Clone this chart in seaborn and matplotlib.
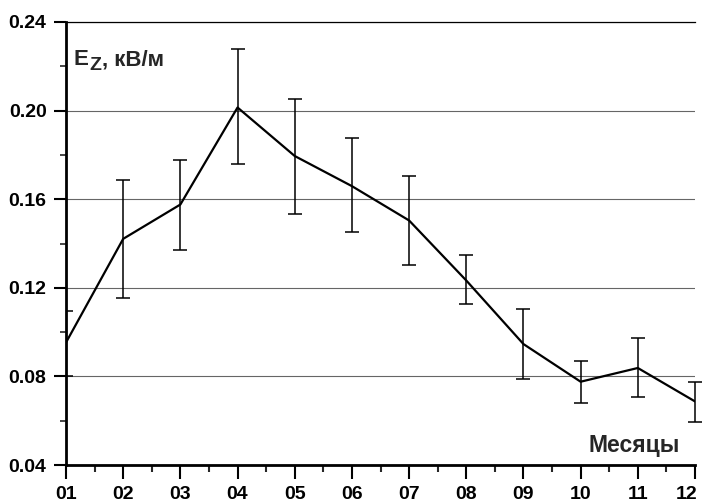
import numpy as np
import seaborn as sns
import matplotlib.pyplot as plt
import matplotlib.transforms as mtransforms

# Данные: среднемесячные значения Ez и границы погрешностей
months = np.arange(1, 13)
month_labels = ['01', '02', '03', '04', '05', '06', '07', '08', '09', '10', '11', '12']
ez_mean = [0.0953, 0.1421, 0.1576, 0.2014, 0.1795, 0.1659, 0.1504, 0.1233, 0.0946, 0.0776, 0.0838, 0.0687]
ez_upper = [0.1097, 0.1685, 0.1776, 0.2276, 0.2052, 0.1878, 0.1706, 0.1349, 0.1106, 0.0868, 0.0972, 0.0776]
ez_lower = [0.0803, 0.1153, 0.1371, 0.1757, 0.1531, 0.1454, 0.1302, 0.1129, 0.0789, 0.0681, 0.0706, 0.0595]
y_ticks = [0.04, 0.08, 0.12, 0.16, 0.20, 0.24]
y_tick_labels = ['0.04', '0.08', '0.12', '0.16', '0.20', '0.24']

sns.set_style('white')
plt.rcParams['font.family'] = ['Liberation Sans', 'DejaVu Sans']
plt.rcParams['font.weight'] = 'bold'

fig = plt.figure(figsize=(7.04, 5.04), dpi=100)
ax = fig.add_axes([66 / 704, 1 - 465 / 504, 629 / 704, 443 / 504])

mean = np.array(ez_mean)
err = np.array([mean - np.array(ez_lower), np.array(ez_upper) - mean])

# линия
sns.lineplot(x=months, y=mean, color='black', linewidth=1.6, ax=ax, zorder=4)

# погрешности (январь обрезается осью, остальные нет)
ax.errorbar(months[:1], mean[:1], yerr=err[:, :1], fmt='none', ecolor='black',
            elinewidth=1.1, capsize=4.7, capthick=1.1, zorder=3)
eb = ax.errorbar(months[1:], mean[1:], yerr=err[:, 1:], fmt='none', ecolor='black',
                 elinewidth=1.1, capsize=4.7, capthick=1.1, zorder=3)
for art in eb.lines[1]:
    art.set_clip_on(False)
for art in eb.lines[2]:
    art.set_clip_on(False)

ax.set_xlim(1, 12)
ax.set_ylim(0.04, 0.24)
ax.set_xticks(months)
ax.set_xticklabels(month_labels)
ax.set_xticks(np.arange(1.5, 12, 1), minor=True)
ax.set_yticks(y_ticks)
ax.set_yticklabels(y_tick_labels)
ax.set_yticks(np.arange(0.06, 0.24, 0.04), minor=True)

ax.grid(axis='y', which='major', color='#666666', linewidth=0.8)
ax.grid(axis='x', visible=False)

ax.tick_params(axis='x', which='major', direction='out', length=10, width=1.5,
               pad=5, labelsize=14, colors='black', bottom=True)
ax.tick_params(axis='x', which='minor', direction='out', length=5, width=1.5, bottom=True)
ax.tick_params(axis='y', which='major', direction='out', length=9, width=1.5,
               pad=5, labelsize=14, colors='black', left=True)
ax.tick_params(axis='y', which='minor', direction='out', length=4.5, width=1.2, left=True)
for lab in ax.get_xticklabels() + ax.get_yticklabels():
    lab.set_fontweight('bold')

# последняя подпись «12» чуть левее, чтобы не обрезалась краем
last = ax.get_xticklabels()[-1]
last.set_transform(last.get_transform() +
                   mtransforms.ScaledTranslation(-6 / 72, 0, fig.dpi_scale_trans))

ax.spines['left'].set_linewidth(2)
ax.spines['bottom'].set_linewidth(2)
ax.spines['top'].set_linewidth(0.9)
ax.spines['right'].set_visible(False)
for s in ['left', 'bottom', 'top']:
    ax.spines[s].set_color('black')

ax.set_xlabel('')
ax.set_ylabel('')

# подпись оси Y: E с нижним индексом Z
renderer = fig.canvas.get_renderer()
lx, ly = 0.0127, 0.902
t_e = ax.text(lx, ly, 'E', transform=ax.transAxes, fontsize=16,
              fontweight='bold', ha='left', va='baseline')
w_e = t_e.get_window_extent(renderer).width * 72 / fig.dpi
t_z = ax.annotate('Z', xy=(lx, ly), xycoords='axes fraction',
                  xytext=(w_e + 0.5, -3), textcoords='offset points',
                  fontsize=14, fontweight='bold', ha='left', va='baseline')
w_z = t_z.get_window_extent(renderer).width * 72 / fig.dpi
ax.annotate(', кВ/м', xy=(lx, ly), xycoords='axes fraction',
            xytext=(w_e + w_z + 0.5, 0), textcoords='offset points',
            fontsize=16, fontweight='bold', ha='left', va='baseline')

ax.text(0.976, 0.030, 'Месяцы', transform=ax.transAxes,
        fontsize=16.5, fontweight='bold', ha='right', va='baseline')

fig.savefig('out.png', dpi=100)
